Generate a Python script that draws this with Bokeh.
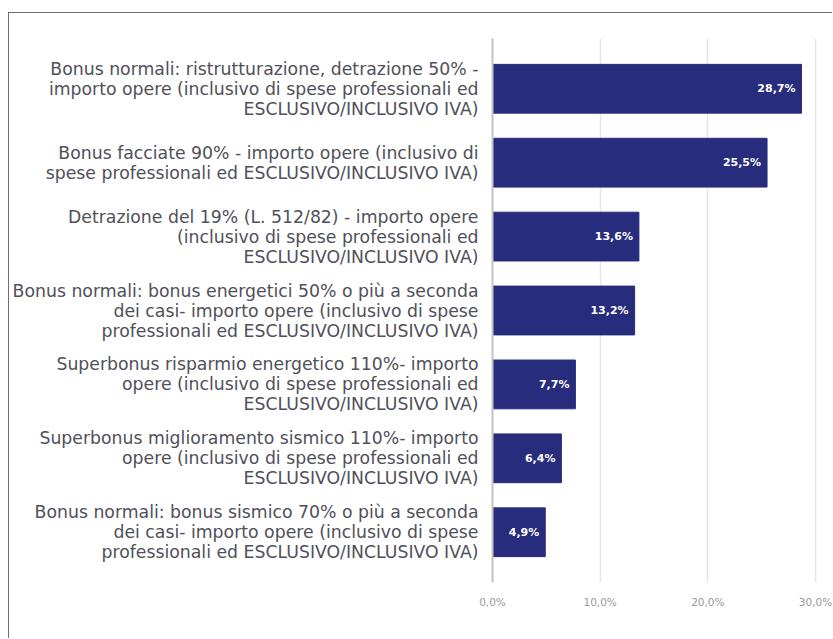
from bokeh.plotting import figure
from bokeh.models import ColumnDataSource, FixedTicker, Range1d
from bokeh.core.properties import value
from bokeh.embed import file_html
from bokeh.resources import INLINE

categories = [
    "Bonus normali: ristrutturazione, detrazione 50% -\nimporto opere (inclusivo di spese professionali ed\nESCLUSIVO/INCLUSIVO IVA)",
    "Bonus facciate 90% - importo opere (inclusivo di\nspese professionali ed ESCLUSIVO/INCLUSIVO IVA)",
    "Detrazione del 19% (L. 512/82) - importo opere\n(inclusivo di spese professionali ed\nESCLUSIVO/INCLUSIVO IVA)",
    "Bonus normali: bonus energetici 50% o più a seconda\ndei casi- importo opere (inclusivo di spese\nprofessionali ed ESCLUSIVO/INCLUSIVO IVA)",
    "Superbonus risparmio energetico 110%- importo\nopere (inclusivo di spese professionali ed\nESCLUSIVO/INCLUSIVO IVA)",
    "Superbonus miglioramento sismico 110%- importo\nopere (inclusivo di spese professionali ed\nESCLUSIVO/INCLUSIVO IVA)",
    "Bonus normali: bonus sismico 70% o più a seconda\ndei casi- importo opere (inclusivo di spese\nprofessionali ed ESCLUSIVO/INCLUSIVO IVA)",
]
values = [28.7, 25.5, 13.6, 13.2, 7.7, 6.4, 4.9]
x_ticks = [0, 10, 20, 30]
x_tick_labels = ["0,0%", "10,0%", "20,0%", "30,0%"]

positions = list(range(len(categories)))
labels = [f"{v:.1f}%".replace(".", ",") for v in values]

src = ColumnDataSource(dict(y=positions, v=values, lab=labels))

# canvas placed at (9, 13) by CSS margin + border
p = figure(width=824, height=626, output_backend="svg", toolbar_location=None,
           x_range=Range1d(0, 30.28), y_range=Range1d(6.68, -0.68),
           min_border_left=481, min_border_right=15, min_border_top=25,
           min_border_bottom=57)
p.styles = {"margin-left": "8px", "margin-top": "12px",
            "border-left": "1px solid #6e6e6e", "border-top": "1px solid #6e6e6e"}
p.outline_line_color = None
p.background_fill_color = "white"
p.border_fill_color = "white"

bar_color = "#282c7d"
p.hbar(y="y", left=0, right="v", height=0.66, source=src,
       fill_color=bar_color, line_color=bar_color)
p.text(x="v", y="y", text="lab", source=src, x_offset=-6,
       text_align="right", text_baseline="middle", text_color="white",
       text_font=value("DejaVu Sans"), text_font_size="11px",
       text_font_style="bold")

# y axis (category labels)
ya = p.yaxis[0]
ya.ticker = FixedTicker(ticks=positions)
ya.major_label_overrides = {i: c for i, c in enumerate(categories)}
ya.major_label_text_font = "DejaVu Sans"
ya.major_label_text_font_size = "17.3px"
ya.major_label_text_color = "#50505a"
ya.major_label_text_line_height = 1.0
ya.major_label_standoff = 8
ya.major_tick_line_color = None
ya.minor_tick_line_color = None
ya.axis_line_color = "#c4c4c4"
ya.axis_line_width = 2

# x axis
xa = p.xaxis[0]
xa.ticker = FixedTicker(ticks=x_ticks)
xa.major_label_overrides = {t: l for t, l in zip(x_ticks, x_tick_labels)}
xa.major_label_text_font = "DejaVu Sans"
xa.major_label_text_font_size = "10.5px"
xa.major_label_text_color = "#999999"
xa.major_label_standoff = 7
xa.major_tick_line_color = None
xa.minor_tick_line_color = None
xa.axis_line_color = None

p.ygrid.grid_line_color = None
p.xgrid.grid_line_color = "#e6e6e6"
p.xgrid.grid_line_width = 1.5

open("out.html", "w").write(file_html(p, INLINE))
